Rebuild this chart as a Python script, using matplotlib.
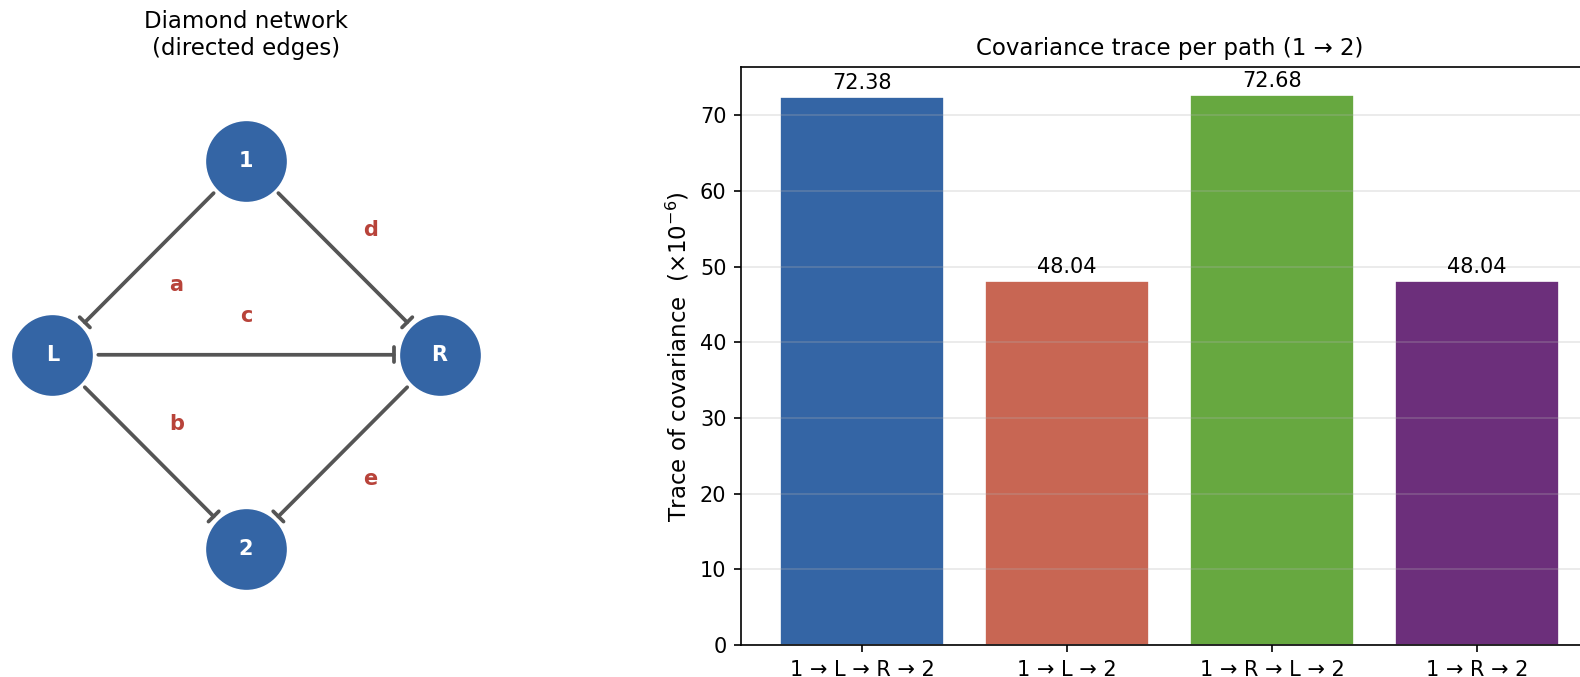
import numpy as np
import matplotlib.pyplot as plt
from matplotlib.patches import FancyArrowPatch, ArrowStyle

# network
nodes = ["1", "L", "R", "2"]
node_pos = {"1": (0, 1), "L": (-1, 0), "R": (1, 0), "2": (0, -1)}
edges = [("1", "L"), ("L", "2"), ("L", "R"), ("1", "R"), ("R", "2")]
edge_labels = ["a", "b", "c", "d", "e"]

# covariance traces (x1e-6)
paths = ["1 → L → R → 2", "1 → L → 2", "1 → R → L → 2", "1 → R → 2"]
traces = [72.38, 48.04, 72.68, 48.04]
bar_colors = ["#3465a5", "#c86653", "#67a840", "#6c2f7b"]

NODE_COLOR = "#3465a5"
EDGE_COLOR = "#555555"
LABEL_COLOR = "#b8433a"


def draw_network(ax):
    for (u, v), lab in zip(edges, edge_labels):
        p0 = np.array(node_pos[u], dtype=float)
        p1 = np.array(node_pos[v], dtype=float)
        arrow = FancyArrowPatch(p0, p1, arrowstyle=ArrowStyle("-[", widthB=0.35, lengthB=0.0),
                                mutation_scale=10, color=EDGE_COLOR, lw=1.8,
                                shrinkA=22, shrinkB=22, zorder=1)
        ax.add_patch(arrow)
        # label sits to the left of the edge direction
        d = (p1 - p0) / np.linalg.norm(p1 - p0)
        normal = np.array([-d[1], d[0]])
        mid = (p0 + p1) / 2 + 0.2 * normal
        ax.text(mid[0], mid[1], lab, color=LABEL_COLOR, fontsize=10, fontweight="bold",
                ha="center", va="center", zorder=3)

    xs = [node_pos[n][0] for n in nodes]
    ys = [node_pos[n][1] for n in nodes]
    ax.scatter(xs, ys, s=1500, c=NODE_COLOR, linewidths=0, zorder=2)
    for n in nodes:
        ax.text(node_pos[n][0], node_pos[n][1], n, color="white", fontsize=10,
                fontweight="bold", ha="center", va="center", zorder=4)

    ax.set_xlim(-1.271, 1.271)
    ax.set_ylim(-1.495, 1.48)
    ax.axis("off")
    ax.set_title("Diamond network\n(directed edges)", fontsize=11)


def draw_bars(ax):
    x = np.arange(len(paths))
    bars = ax.bar(x, traces, color=bar_colors, edgecolor="white", linewidth=0.8)
    ax.bar_label(bars, labels=["%.2f" % t for t in traces], padding=2, fontsize=10)
    ax.set_xticks(x)
    ax.set_xticklabels(paths, fontsize=10)
    ax.set_ylim(0, max(traces) * 1.05)
    ax.set_ylabel(r"Trace of covariance  ($\times10^{-6}$)", fontsize=11)
    ax.set_title("Covariance trace per path (1 → 2)", fontsize=11)
    ax.grid(axis="y", alpha=0.3)


def main():
    fig = plt.figure(figsize=(1580 / 150, 677 / 150), dpi=150)
    ax_net = fig.add_axes([0.0, 0.0473, 492 / 1580, 0.853])
    ax_bar = fig.add_axes([741 / 1580, 0.0473, (1598 - 741) / 1580, 0.853])

    draw_network(ax_net)
    draw_bars(ax_bar)

    fig.savefig("out.png", dpi=150)


if __name__ == "__main__":
    main()
